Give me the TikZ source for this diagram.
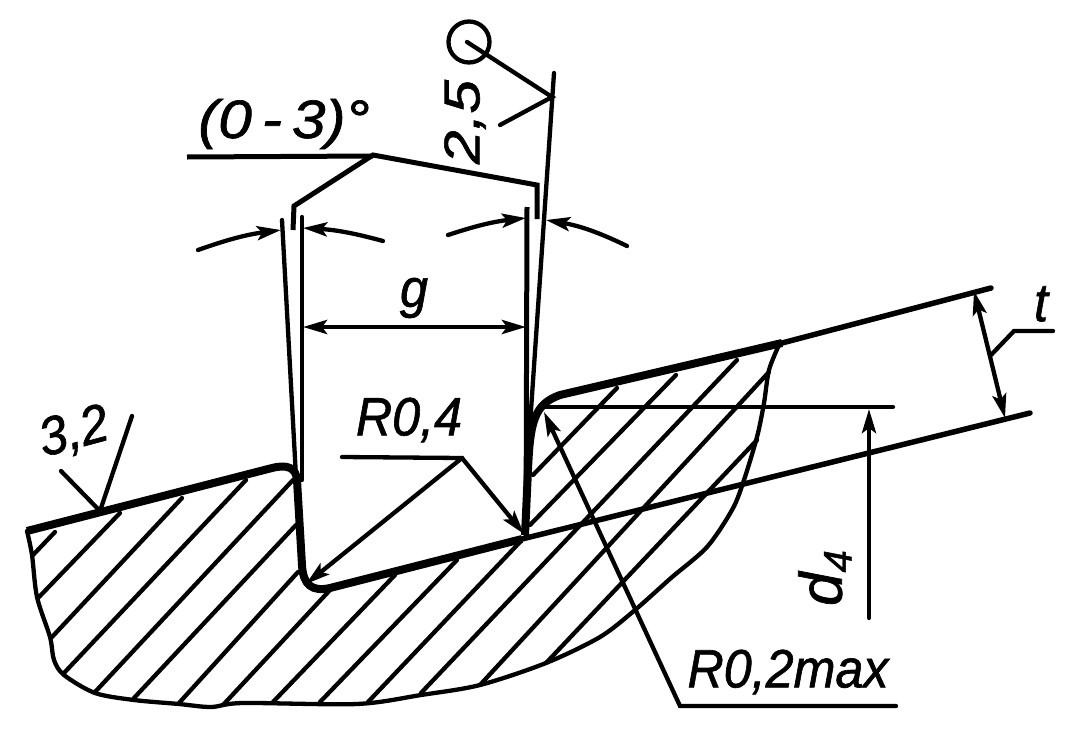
\documentclass[tikz,border=0pt]{standalone}
\usepackage{fontspec}
\setmainfont[ItalicFeatures={FakeBold=1.2}]{Liberation Sans}
\usetikzlibrary{arrows.meta}
\tikzset{
  thinline/.style={line width=4.3pt,line cap=round,line join=miter},
  profile/.style={line width=8pt,line join=round},
  dimline/.style={thinline,{Stealth[length=24pt,width=14pt,inset=5pt]}-{Stealth[length=24pt,width=14pt,inset=5pt]}},
  arrowline/.style={thinline,-{Stealth[length=24pt,width=14pt,inset=5pt]}},
  drawlabel/.style={font=\fontsize{54}{54}\selectfont\itshape,inner sep=0pt,xscale=.93},
}
\begin{document}
\begin{tikzpicture}[x=1pt,y=-1pt]
  \useasboundingbox (0,0) rectangle (1071,739);
  % hatching of the cut
  \foreach \xa/\ya/\xb/\yb in {33/555/55/532,39/597/120/513,52/637/182/498,64/673/246/480,
      95/692/293/480,134/698/296/525,179/703/298/572,223/705/330/590,273/702/395/575,
      320/702/457/560,368/702/520/542,533/475/617/388,530/525/676/375,421/693/737/360,
      480/685/769/372,546/663/757/440}
    \draw[thinline] (\xa,\ya) -- (\xb,\yb);
  % lower outline
  \draw[thinline] plot[smooth,tension=.5] coordinates {(27,531) (32,555) (37,597) (50,637) (54,660) (64,675)
      (95,693) (134,700) (179,704) (211,707) (243,703) (357,704) (421,695) (480,685) (546,663)
      (600,637) (635,610) (671,578) (707,547) (732,510) (743,483) (757,437) (764,403) (769,370) (779,345)};
  % profile
  \draw[profile] (27,531) -- (272,468) .. controls (288,464) and (296,468) .. (297,480)
      -- (302,565) .. controls (303,585) and (312,592) .. (330,588) -- (522,539);
  \draw[line width=5pt] (526,537) -- (527,207);
  \draw[profile] (525,535) -- (528,470) .. controls (530,420) and (535,404) .. (560,395) -- (782,343);
  \draw[line width=5.5pt,line cap=round] (782,343) -- (991,288);
  \draw[line width=5.5pt,line cap=round] (522,539) -- (1030,413);
  % gauge
  \draw[thinline] (302,217) -- (302,480);
  \draw[thinline] (282,220) -- (296,477);
  \draw[thinline] (554,73) -- (530,425);
  \draw[line width=5pt,line join=miter] (293,230) -- (294,206) -- (373,155) -- (537,185) -- (537,219);
  \node[drawlabel,xscale=1.2] (angletext) at (284,124) {(0\,-\,3)°};
  \draw[line width=5pt] (187,157) -- (373,156);
  % surface marks
  \node[draw,circle,line width=4.3pt,minimum size=41pt,inner sep=0pt] (markcircle) at (469,42) {};
  \draw[thinline] (467,42) -- (552,97) -- (500,125);
  \node[drawlabel,rotate=90,xscale=1.12] (roughtop) at (465,122) {2,5};
  \draw[thinline] (61,471) -- (100,511) -- (132,416);
  \node[drawlabel,rotate=14] (roughleft) at (74,433) {3,2};
  % taper angles
  \draw[arrowline] (198,250) to[bend left=6] (281,230);
  \draw[arrowline] (383,241) to[bend right=6] (303,228);
  \draw[arrowline] (448,235) to[bend left=6] (526,218);
  \draw[arrowline] (627,246) to[bend right=8] (546,220);
  % width
  \draw[dimline] (303,327) -- (526,327);
  \node[drawlabel] (gapwidth) at (414,298) {g};
  % radii
  \node[drawlabel] (radiusfour) at (409,420) {R0,4};
  \draw[arrowline] (342,457) -- (462,458) -- (524,534);
  \draw[arrowline] (462,458) -- (306,584);
  \node[drawlabel] (radiustwo) at (788,672) {R0,2max};
  \draw[arrowline] (896,706) -- (680,706) -- (544,412);
  % depth
  \draw[thinline] (544,407) -- (893,407);
  \draw[arrowline] (869,618) -- (869,409);
  \node[font=\fontsize{60}{60}\selectfont\itshape,inner sep=0pt,rotate=90] (depthlabel) at (825,578) {d\raisebox{-10pt}{\fontsize{40}{40}\selectfont 4}};
  % thickness
  \draw[dimline] (974,291) -- (1005,418);
  \draw[thinline] (991,355) -- (1014,331) -- (1053,331);
  \node[drawlabel] (thicklabel) at (1041,304) {t};
\end{tikzpicture}
\end{document}
